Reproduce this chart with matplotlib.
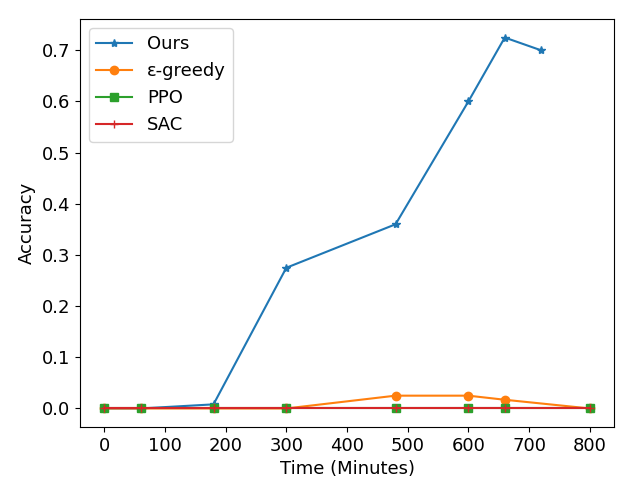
import matplotlib
matplotlib.use("Agg")
import matplotlib.pyplot as plt

# Time points (minutes)
time_ours = [0, 60, 180, 300, 480, 600, 660, 720]
time_base = [0, 60, 180, 300, 480, 600, 660, 800]

# Accuracy per method
acc_ours = [0.0, 0.0, 0.008, 0.275, 0.36, 0.60, 0.725, 0.70]
acc_egreedy = [0.0, 0.0, 0.0, 0.0, 0.025, 0.025, 0.017, 0.0]
acc_ppo = [0.0, 0.0, 0.0, 0.0, 0.0, 0.0, 0.0, 0.0]
acc_sac = [0.0, 0.0, 0.0, 0.0, 0.0, 0.0, 0.0, 0.0]

plt.rcParams["font.size"] = 13

fig = plt.figure(figsize=(6.4, 4.8), dpi=100)
plt.plot(time_ours, acc_ours, marker="*", label="Ours")
plt.plot(time_base, acc_egreedy, marker="o", label="ε-greedy")
plt.plot(time_base, acc_ppo, marker="s", label="PPO")
plt.plot(time_base, acc_sac, marker="+", label="SAC")

plt.xlabel("Time (Minutes)")
plt.ylabel("Accuracy")
plt.legend(loc="upper left")
plt.subplots_adjust(left=80 / 640, right=614 / 640, top=1 - 19 / 480, bottom=1 - 427 / 480)
plt.savefig("out.png")
